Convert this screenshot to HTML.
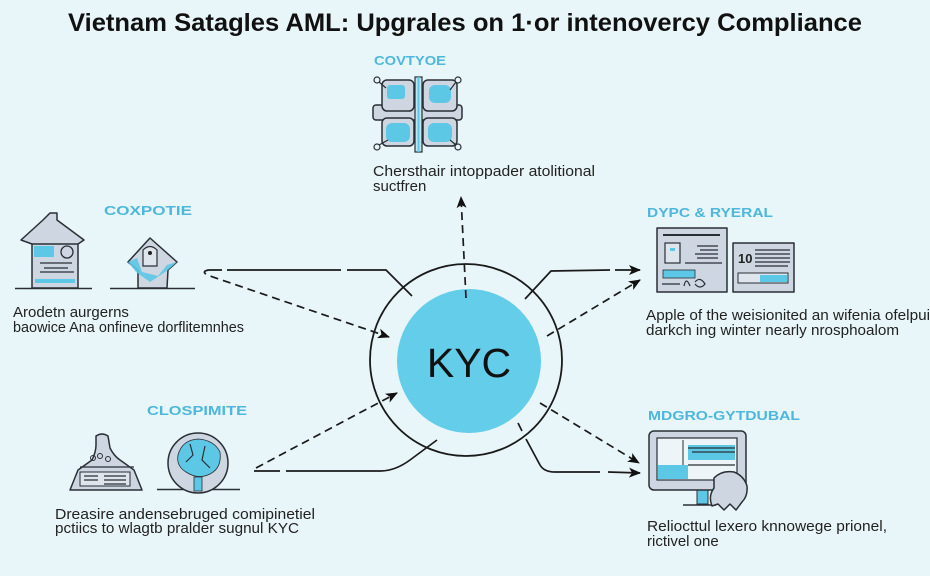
<!DOCTYPE html>
<html><head><meta charset="utf-8"><style>
html,body{margin:0;padding:0;background:#e9f6f9;}
svg{display:block;}
text{font-family:"Liberation Sans",Arial,sans-serif;}
.cap{font-size:15px;fill:#222;}
.lbl{font-size:13px;font-weight:bold;fill:#4db7dc;}
.ic{stroke:#2a2f36;stroke-width:1.5;fill:#cdd6e1;stroke-linejoin:round;}
.cy{fill:#5cc8e6;}
.ln{stroke:#1a1a1a;stroke-width:1.7;fill:none;}
.dsh{stroke:#1a1a1a;stroke-width:1.7;fill:none;stroke-dasharray:8 5;}
.thin{stroke:#2a2f36;stroke-width:1.2;fill:none;}
</style></head><body>
<svg width="930" height="576" viewBox="0 0 930 576" xmlns="http://www.w3.org/2000/svg">
<defs>
<marker id="ah" markerWidth="12" markerHeight="10" refX="11" refY="5" orient="auto" markerUnits="userSpaceOnUse">
<path d="M0,0 L12,5 L0,10 L3,5 Z" fill="#111"/>
</marker>
</defs>
<rect width="930" height="576" fill="#e9f6f9"/>

<!-- Title -->
<text x="68" y="31" font-size="25" font-weight="bold" fill="#111" textLength="794" lengthAdjust="spacingAndGlyphs">Vietnam Satagles AML: Upgrales on 1·or intenovercy Compliance</text>

<!-- Top node -->
<text class="lbl" x="374" y="65" textLength="72" lengthAdjust="spacingAndGlyphs">COVTYOE</text>
<g>
 <rect class="ic" x="373" y="105" width="89" height="15" rx="3"/>
 <rect class="ic" x="382" y="80" width="32" height="31" rx="5"/>
 <rect class="ic" x="423" y="80" width="34" height="31" rx="5"/>
 <rect class="ic" x="382" y="118" width="32" height="28" rx="5"/>
 <rect class="ic" x="423" y="118" width="34" height="28" rx="5"/>
 <rect class="cy" x="387" y="85" width="18" height="14" rx="3"/>
 <rect class="cy" x="429" y="85" width="22" height="18" rx="6"/>
 <rect class="cy" x="386" y="123" width="24" height="19" rx="6"/>
 <rect class="cy" x="428" y="123" width="24" height="19" rx="6"/>
 <rect x="415" y="77" width="7" height="75" fill="#bfe6f2" stroke="#2a2f36" stroke-width="1.2"/>
 <line x1="418.5" y1="77" x2="418.5" y2="152" stroke="#5cc8e6" stroke-width="2"/>
 <circle cx="377" cy="80" r="3" fill="#e9f6f9" stroke="#2a2f36" stroke-width="1.2"/>
 <circle cx="458" cy="80" r="3" fill="#e9f6f9" stroke="#2a2f36" stroke-width="1.2"/>
 <circle cx="377" cy="147" r="3" fill="#e9f6f9" stroke="#2a2f36" stroke-width="1.2"/>
 <circle cx="458" cy="147" r="3" fill="#e9f6f9" stroke="#2a2f36" stroke-width="1.2"/>
 <path class="thin" d="M379,82 L386,88 M456,82 L450,90 M379,145 L388,140 M456,145 L450,140"/>
</g>
<text class="cap" x="373" y="176" textLength="222" lengthAdjust="spacingAndGlyphs">Chersthair intoppader atolitional</text>
<text class="cap" x="373" y="191">suctfren</text>

<!-- Left top node -->
<text class="lbl" x="104" y="215" textLength="88" lengthAdjust="spacingAndGlyphs">COXPOTIE</text>
<g>
 <line x1="15" y1="288.5" x2="92" y2="288.5" stroke="#2a2f36" stroke-width="1.5"/>
 <rect class="ic" x="32" y="241" width="46" height="47"/>
 <polygon class="ic" points="21,240 43,220 50,213 57,213 57,220 84,240 78,244 32,244"/>
 <rect class="cy" x="34" y="246" width="20" height="11"/>
 <circle cx="67" cy="252" r="6" fill="#cdd6e1" stroke="#2a2f36" stroke-width="1.3"/>
 <path class="thin" d="M40,263 L72,263 M44,268 L68,268 M40,272 L74,272"/>
 <rect class="cy" x="35" y="279" width="40" height="4"/>
 <line x1="110" y1="288.5" x2="195" y2="288.5" stroke="#2a2f36" stroke-width="1.5"/>
 <polygon class="ic" points="150,238 177,262 168,270 167,288 138,288 138,270 128,262"/>
 <path class="cy" d="M128,262 L137,258 L142,272 L158,276 L167,265 L177,262 L168,270 L150,282 L136,272 Z" opacity="0.9"/>
 <path d="M143,250 Q150,243 157,250 L157,266 L143,266 Z" fill="#dfe5ec" stroke="#2a2f36" stroke-width="1.2"/>
 <circle cx="150" cy="253" r="2" fill="#222"/>
</g>
<text class="cap" x="13" y="317">Arodetn aurgerns</text>
<text class="cap" x="13" y="332" textLength="231" lengthAdjust="spacingAndGlyphs">baowice Ana onfineve dorflitemnhes</text>

<!-- Right top node -->
<text class="lbl" x="647" y="217" textLength="126" lengthAdjust="spacingAndGlyphs">DYPC &amp; RYERAL</text>
<g>
 <rect class="ic" x="657" y="228" width="70" height="64"/>
 <line x1="663" y1="235" x2="720" y2="235" stroke="#2a2f36" stroke-width="2"/>
 <rect x="665" y="243" width="15" height="20" fill="#dfe5ec" stroke="#2a2f36" stroke-width="1.2"/>
 <rect class="cy" x="670" y="248" width="5" height="3"/>
 <path class="thin" d="M697,246 L718,246 M700,250 L718,250 M695,254 L718,254 M697,258 L718,258 M685,263 L722,263"/>
 <rect class="cy" x="663" y="270" width="32" height="8" stroke="#2a2f36" stroke-width="0.8"/>
 <path class="thin" d="M662,284 L680,284 M684,286 Q686,276 690,286 M695,282 Q700,276 705,284 Q700,290 695,284"/>
 <rect class="ic" x="733" y="243" width="61" height="49"/>
 <text x="738" y="263" font-size="13" font-weight="bold" font-family="Liberation Serif,serif" fill="#222">10</text>
 <path class="thin" d="M755,250 L790,250 M755,254 L790,254 M755,258 L790,258 M755,262 L790,262 M755,266 L788,266"/>
 <rect x="738" y="273" width="50" height="10" fill="#dfe5ec" stroke="#2a2f36" stroke-width="1"/>
 <rect class="cy" x="760" y="275" width="27" height="7"/>
</g>
<text class="cap" x="646" y="320" textLength="284" lengthAdjust="spacingAndGlyphs">Apple of the weisionited an wifenia ofelpui</text>
<text class="cap" x="646" y="335" textLength="253" lengthAdjust="spacingAndGlyphs">darkch ing winter nearly nrosphoalom</text>

<!-- Bottom left node -->
<text class="lbl" x="147" y="415" textLength="100" lengthAdjust="spacingAndGlyphs">CLOSPIMITE</text>
<g>
 <path class="ic" d="M96,436 Q102,432 108,436 L110,448 Q114,456 120,460 L134,470 L142,490 L70,490 L78,470 L92,460 Q96,452 96,445 Z"/>
 <path class="thin" d="M80,467 L134,467"/>
 <rect x="80" y="472" width="50" height="14" fill="#dfe5ec" stroke="#2a2f36" stroke-width="1"/>
 <path class="thin" d="M84,476 L98,476 M84,480 L98,480 M104,476 L126,476 M104,480 L126,480 M104,484 L126,484"/>
 <circle cx="93" cy="458" r="2.5" fill="none" stroke="#2a2f36" stroke-width="1"/>
 <circle cx="100" cy="456" r="2.5" fill="none" stroke="#2a2f36" stroke-width="1"/>
 <circle cx="108" cy="459" r="2.5" fill="none" stroke="#2a2f36" stroke-width="1"/>
 <line x1="157" y1="489.5" x2="240" y2="489.5" stroke="#2a2f36" stroke-width="1.5"/>
 <circle cx="198" cy="463" r="30" fill="#cdd6e1" stroke="#2a2f36" stroke-width="1.5"/>
 <path d="M178,455 Q182,440 198,439 Q214,440 220,452 Q222,468 210,474 Q198,480 186,472 Q176,466 178,455 Z" fill="#5cc8e6" stroke="#2a2f36" stroke-width="0.8"/>
 <path class="thin" d="M190,444 L193,455 L186,462 M205,446 L202,460 L210,468"/>
 <rect class="cy" x="194" y="477" width="8" height="14" stroke="#2a2f36" stroke-width="0.8"/>
</g>
<text class="cap" x="55" y="519" textLength="260" lengthAdjust="spacingAndGlyphs">Dreasire andensebruged comipinetiel</text>
<text class="cap" x="55" y="533" textLength="244" lengthAdjust="spacingAndGlyphs">pctiics to wlagtb pralder sugnul KYC</text>

<!-- Bottom right node -->
<text class="lbl" x="648" y="420" textLength="152" lengthAdjust="spacingAndGlyphs">MDGRO-GYTDUBAL</text>
<g>
 <rect x="697" y="489" width="11" height="15" class="cy" stroke="#2a2f36" stroke-width="1"/>
 <line x1="683" y1="505" x2="716" y2="505" stroke="#2a2f36" stroke-width="1.6"/>
 <rect class="ic" x="649" y="431" width="97" height="59" rx="5"/>
 <rect x="657" y="438" width="80" height="42" fill="#eef5f8" stroke="#2a2f36" stroke-width="1.2"/>
 <rect class="cy" x="658" y="465" width="30" height="14"/>
 <line x1="683" y1="440" x2="683" y2="465" stroke="#2a2f36" stroke-width="1"/>
 <rect class="cy" x="688" y="445" width="47" height="15"/>
 <path class="thin" d="M688,448 L735,448 M692,452 L735,452 M688,465 L735,465"/>
 <path class="ic" d="M714,478 Q722,470 734,472 Q744,476 747,486 Q748,496 742,502 L736,510 L730,504 L724,510 L718,504 L712,506 Q708,496 714,488 Z"/>
</g>
<text class="cap" x="647" y="531" textLength="240" lengthAdjust="spacingAndGlyphs">Reliocttul lexero knnowege prionel,</text>
<text class="cap" x="647" y="546">rictivel one</text>

<!-- Center -->
<circle cx="466" cy="360" r="96" fill="none" stroke="#1a1a1a" stroke-width="1.8"/>
<circle cx="469" cy="361" r="72" fill="#63cdea"/>
<text x="469" y="377" font-size="41" fill="#111" text-anchor="middle">KYC</text>

<!-- Connectors -->
<path class="dsh" d="M466,298 L461,197" marker-end="url(#ah)"/>
<path class="ln" d="M209,270 L222,270 M227,270 L341,270 M347,270 L386,270 L412,296"/>
<path class="dsh" d="M209,270 Q201,271 207,275 L389,337" marker-end="url(#ah)"/>
<path class="ln" d="M525,299 L551,271 L610,270 M615,270 L640,270" marker-end="url(#ah)"/>
<path class="dsh" d="M547,336 L640,280" marker-end="url(#ah)"/>
<path class="dsh" d="M256,468 L397,393" marker-end="url(#ah)"/>
<path class="ln" d="M254,471 L280,471 M286,471 L380,471 Q395,471 410,460 L437,440"/>
<path class="dsh" d="M540,403 L639,463" marker-end="url(#ah)"/>
<path class="ln" d="M518,423 L522,431 M526,439 L540,465 Q544,472 555,472 L600,472 M608,472 L640,473" marker-end="url(#ah)"/>
</svg>
</body></html>
